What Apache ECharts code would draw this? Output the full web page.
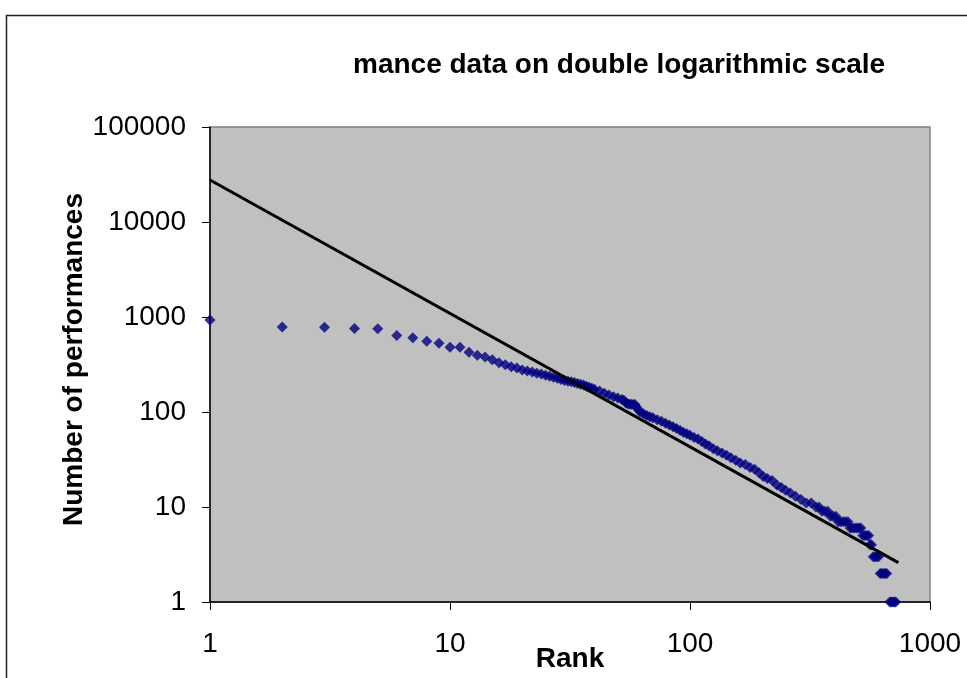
<!DOCTYPE html>
<html>
<head>
<meta charset="utf-8">
<title>Rank plot</title>
<script src="https://cdn.jsdelivr.net/npm/echarts@6/dist/echarts.min.js"></script>
<style>
html,body{margin:0;padding:0;background:#fff;}
#main{width:967px;height:678px;}
</style>
</head>
<body>
<div id="main"></div>
<script>
// 排名 / 演出次数
var rankList = [1,2,3,4,5,6,7,8,9,10,11,12,13,14,15,16,17,18,19,20,
	21,22,23,24,25,26,27,28,29,30,31,32,33,34,35,36,37,38,39,40,
	42,44,46,48,50,52,53,54,55,56,57,58,59,60,61,62,64,66,68,70,
	73,76,79,82,85,88,91,94,97,100,104,108,112,116,120,125,130,136,142,148,
	155,162,170,178,186,194,202,210,220,230,240,250,262,275,290,305,320,335,345,355,
	365,375,385,395,405,415,425,435,445,455,465,475,485,495,505,515,525,535,545,555,
	562,570,580,590,600,610,620,630,640,650,660,680,690,700,710,720];
var perfList = [930,785,780,755,750,640,605,555,530,480,480,425,395,380,355,330,315,300,290,277,
	270,263,256,251,244,238,232,226,220,215,211,208,204,200,196,192,187,182,178,174,
	166,158,151,145,140,135,133,125,122,121,121,120,120,112,105,100,96,92,89,87,
	83,80,76,73,70,67,64,61,59,57,54,52,49,46,44,41,39,37,35,33,
	31,29,28,26,25,23,21,20,19,17,16,15,14,13,12,11,11,10,10,9,
	9,9,8,8,8,7,7,7,7,7,6,6,6,6,6,6,5,5,5,5,
	4,4,3,3,3,3,2,2,2,2,2,1,1,1,1,1];

// 趋势线 (power law fit, straight on log-log)
var trendRank = [1, 738];
var trendValue = [27700, 2.6];

var fontName = "'Liberation Sans', Arial, sans-serif";

var scatterData = [];
for (var i = 0; i < rankList.length; i++) {
	scatterData.push([rankList[i], perfList[i]]);
}
var trendData = [];
for (var j = 0; j < trendRank.length; j++) {
	trendData.push([trendRank[j], trendValue[j]]);
}

function plainLabel(v) {
	return String(Math.round(v));
}

var myChart = echarts.init(document.getElementById('main'));
var option = {
	animation: false,
	backgroundColor: '#ffffff',
	title: {
		text: 'mance data on double logarithmic scale',
		left: 348,
		top: 46,
		textStyle: {fontFamily: fontName, fontSize: 28, fontWeight: 'bold', color: '#000'}
	},
	graphic: [{
		type: 'rect',
		z: -1,
		shape: {x: 6.5, y: 15.5, width: 1000, height: 700},
		style: {fill: null, stroke: '#222', lineWidth: 1.5}
	}],
	grid: {
		left: 210, right: 37, top: 127, bottom: 76,
		outerBoundsMode: 'none',
		containLabel: false,
		show: true,
		backgroundColor: '#c0c0c0',
		borderColor: '#808080',
		borderWidth: 1.5
	},
	xAxis: {
		type: 'log',
		logBase: 10,
		min: 1,
		max: 1000,
		name: 'Rank',
		nameLocation: 'middle',
		nameGap: 43,
		nameMoveOverlap: false,
		nameTextStyle: {fontFamily: fontName, fontSize: 28, fontWeight: 'bold', color: '#000'},
		axisLine: {show: true, lineStyle: {color: '#000', width: 1.5}},
		axisTick: {show: true, inside: false, length: 8, lineStyle: {color: '#000'}},
		minorTick: {show: false},
		splitLine: {show: false},
		axisLabel: {margin: 28, fontFamily: fontName, fontSize: 28, color: '#000', formatter: plainLabel}
	},
	yAxis: {
		type: 'log',
		logBase: 10,
		min: 1,
		max: 100000,
		name: 'Number of performances',
		nameLocation: 'middle',
		nameRotate: 90,
		nameGap: 122,
		nameMoveOverlap: false,
		nameTextStyle: {fontFamily: fontName, fontSize: 28, fontWeight: 'bold', color: '#000', padding: [0, 0, 0, 10]},
		axisLine: {show: true, lineStyle: {color: '#000', width: 1.5}},
		axisTick: {show: true, inside: false, length: 8, lineStyle: {color: '#000'}},
		minorTick: {show: false},
		splitLine: {show: false},
		axisLabel: {margin: 24, fontFamily: fontName, fontSize: 28, color: '#000', formatter: plainLabel}
	},
	series: [{
		name: 'performances',
		type: 'scatter',
		symbol: 'diamond',
		symbolSize: [11, 11],
		itemStyle: {color: '#000080'},
		data: scatterData,
		z: 2
	}, {
		name: 'trend',
		type: 'line',
		showSymbol: false,
		symbol: 'none',
		lineStyle: {color: '#000', width: 3},
		data: trendData,
		z: 3
	}]
};
myChart.setOption(option);
</script>
</body>
</html>
